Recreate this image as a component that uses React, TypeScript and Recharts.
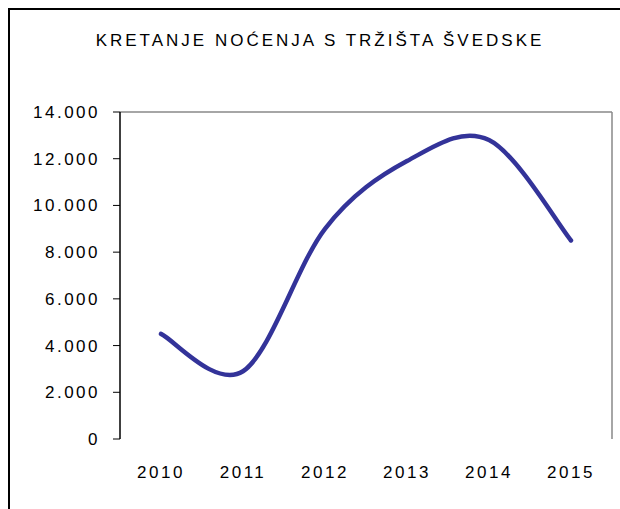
import { LineChart, Line, XAxis, YAxis, ReferenceLine } from 'recharts';

const YEARS = ['2010', '2011', '2012', '2013', '2014', '2015'];
const NIGHTS = [4500, 2900, 9000, 11900, 12800, 8500];
const Y_TICKS = [0, 2000, 4000, 6000, 8000, 10000, 12000, 14000];

const data = YEARS.map((year, i) => ({ pos: i + 0.5, year, nights: NIGHTS[i] }));
const boundaryTicks = YEARS.map((_, i) => i).concat(YEARS.length);
const centerTicks = data.map((d) => d.pos);

const FONT = '"Liberation Sans", Arial, sans-serif';

// Excel-like smoothed line (Catmull-Rom style bezier)
function excelSmooth(context: any) {
  let pts: number[][] = [];
  return {
    areaStart() {},
    areaEnd() {},
    lineStart() {
      pts = [];
    },
    point(x: number, y: number) {
      pts.push([+x, +y]);
    },
    lineEnd() {
      if (!pts.length) return;
      context.moveTo(pts[0][0], pts[0][1]);
      for (let i = 0; i < pts.length - 1; i++) {
        const p0 = pts[i - 1] || pts[i];
        const p1 = pts[i];
        const p2 = pts[i + 1];
        const p3 = pts[i + 2] || pts[i + 1];
        context.bezierCurveTo(
          p1[0] + (p2[0] - p0[0]) / 6,
          p1[1] + (p2[1] - p0[1]) / 6,
          p2[0] - (p3[0] - p1[0]) / 6,
          p2[1] - (p3[1] - p1[1]) / 6,
          p2[0],
          p2[1]
        );
      }
    },
  };
}

const fmt = (v: number) => String(v).replace(/\B(?=(\d{3})+(?!\d))/g, '.');

const tickStyle = { fontSize: 17, fill: '#000', fontFamily: FONT, letterSpacing: 2.5 };

export default function App() {
  return (
    <div
      style={{
        position: 'absolute',
        left: 8,
        top: 8,
        width: 612,
        height: 501,
        borderLeft: '2px solid #000',
        borderTop: '2px solid #000',
        boxSizing: 'border-box',
        fontFamily: FONT,
        background: '#fff',
      }}
    >
      <div
        style={{
          position: 'absolute',
          top: 21,
          left: 0,
          width: 620,
          textAlign: 'center',
          fontSize: 17,
          letterSpacing: 3,
          color: '#000',
        }}
      >
        KRETANJE NOĆENJA S TRŽIŠTA ŠVEDSKE
      </div>
      <LineChart
        width={610}
        height={499}
        data={data}
        margin={{ top: 102, right: 8, left: 0, bottom: 30 }}
      >
        <XAxis
          xAxisId="grid"
          type="number"
          dataKey="pos"
          domain={[0, YEARS.length]}
          ticks={boundaryTicks}
          tickFormatter={() => ''}
          tickSize={7}
          height={0}
          stroke="#000"
          axisLine={{ stroke: '#000', strokeWidth: 1.5 }}
          tickLine={{ stroke: '#000' }}
        />
        <XAxis
          xAxisId="labels"
          type="number"
          dataKey="pos"
          domain={[0, YEARS.length]}
          ticks={centerTicks}
          tickFormatter={(v: number) => YEARS[Math.floor(v)]}
          axisLine={false}
          tickLine={false}
          tickSize={0}
          tickMargin={27}
          height={40}
          tick={tickStyle}
        />
        <YAxis
          domain={[0, 14000]}
          ticks={Y_TICKS}
          tickFormatter={fmt}
          width={110}
          tickSize={7}
          tickMargin={13}
          axisLine={{ stroke: '#000', strokeWidth: 1.5 }}
          tickLine={{ stroke: '#000' }}
          tick={tickStyle}
        />
        <ReferenceLine y={14000} xAxisId="grid" stroke="#888" strokeWidth={1.5} />
        <ReferenceLine x={YEARS.length} xAxisId="grid" stroke="#888" strokeWidth={1.5} />
        <Line
          xAxisId="grid"
          dataKey="nights"
          type={excelSmooth as any}
          stroke="#333399"
          strokeWidth={4.5}
          strokeLinecap="round"
          dot={false}
          isAnimationActive={false}
        />
      </LineChart>
    </div>
  );
}
